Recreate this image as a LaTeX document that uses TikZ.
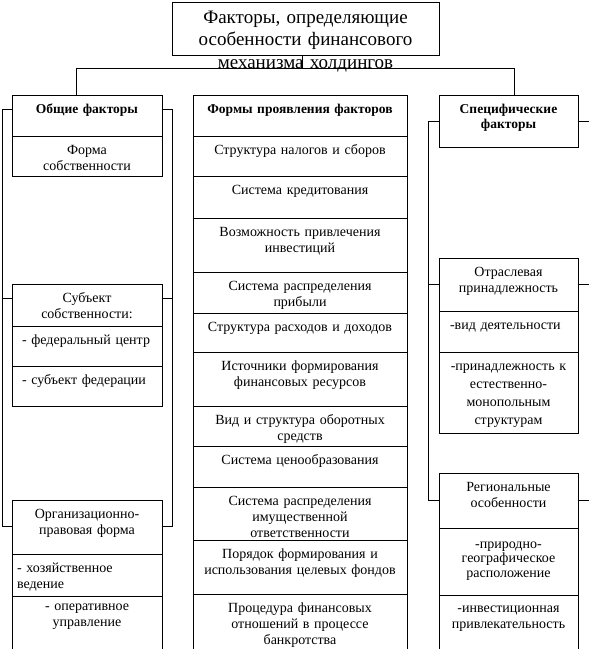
\documentclass[tikz,border=0pt]{standalone}
\usepackage{fontspec}
\setmainfont{Liberation Serif}
\usetikzlibrary{positioning}

\begin{document}
\begin{tikzpicture}[x=1pt,y=-1pt]
      \tikzset{
        cell/.style={draw, line width=0.8pt, inner xsep=3pt, inner ysep=0pt, outer sep=0pt, text height=18pt, align=center, font=\fontsize{14}{16}\selectfont},
        hd/.style={cell, font=\bfseries\fontsize{13.5}{15.5}\selectfont},
        colL/.style={text width=144pt},
        colM/.style={text width=208pt},
        colR/.style={text width=133pt},
        line/.style={draw, line width=0.8pt},
      }
      \useasboundingbox (0,0) rectangle (589,649);

      \node [cell, anchor=north west, text width=261pt, text height=21pt, text depth=32pt, font=\fontsize{19}{22.5}\selectfont] (title) at (172,2) {Факторы, определяющие\\ особенности финансового\\ механизма холдингов};

      % left column
      \node [hd, colL, anchor=north west, text depth=23pt] (gen) at (12,95) {Общие факторы};
      \node [cell, colL, below=0pt of gen, text depth=22pt] (own) {Форма\\ собственности};
      \node [cell, colL, anchor=north west, text depth=24pt] (subj) at (12,284) {Субъект\\ собственности:};
      \node [cell, colL, below=0pt of subj, align=left, text depth=22pt] (fed) {\hspace*{7pt}- федеральный центр};
      \node [cell, colL, below=0pt of fed, align=left, text depth=22pt] (sfed) {\hspace*{7pt}- субъект федерации};
      \node [cell, colL, anchor=north west, text depth=36pt] (org) at (12,500) {Организационно-\\ правовая форма};
      \node [cell, colL, below=0pt of org, align=left, text depth=24pt] (hoz) {\hspace*{2pt}- хозяйственное\\ \hspace*{2pt}ведение};
      \node [cell, colL, below=0pt of hoz, text height=14pt, text depth=42pt] (oper) {- оперативное\\ управление};

      % middle column
      \node [hd, colM, anchor=north west, text depth=23pt] (forms) at (193,95) {Формы проявления факторов};
      \node [cell, colM, below=0pt of forms, text depth=22pt] (m1) {Структура налогов и сборов};
      \node [cell, colM, below=0pt of m1, text depth=24pt] (m2) {Система кредитования};
      \node [cell, colM, below=0pt of m2, text depth=36pt] (m3) {Возможность привлечения\\ инвестиций};
      \node [cell, colM, below=0pt of m3, text depth=23pt] (m4) {Система распределения\\ прибыли};
      \node [cell, colM, below=0pt of m4, text depth=21pt] (m5) {Структура расходов и доходов};
      \node [cell, colM, below=0pt of m5, text depth=36pt] (m6) {Источники формирования\\ финансовых ресурсов};
      \node [cell, colM, below=0pt of m6, text depth=22pt] (m7) {Вид и структура оборотных\\ средств};
      \node [cell, colM, below=0pt of m7, text depth=23pt] (m8) {Система ценообразования};
      \node [cell, colM, below=0pt of m8, text depth=35pt] (m9) {Система распределения\\ имущественной\\ ответственности};
      \node [cell, colM, below=0pt of m9, text depth=36pt] (m10) {Порядок формирования и\\ использования целевых фондов};
      \node [cell, colM, below=0pt of m10, text depth=40pt] (m11) {Процедура финансовых\\ отношений в процессе\\ банкротства};

      % right column
      \node [hd, colR, anchor=north west, text depth=34pt] (spec) at (439,95) {Специфические\\ факторы};
      \node [cell, colR, anchor=north west, text depth=35pt] (ind) at (439,258) {Отраслевая\\ принадлежность};
      \node [cell, colR, below=0pt of ind, align=left, text depth=23pt] (act) {\hspace*{8pt}-вид деятельности};
      \node [cell, colR, below=0pt of act, text depth=63pt, font=\fontsize{14}{18}\selectfont] (mono) {-принадлежность к\\ естественно-\\ монопольным\\ структурам};
      \node [cell, colR, anchor=north west, text depth=37pt] (reg) at (439,473) {Региональные\\ особенности};
      \node [cell, colR, below=0pt of reg, text height=20pt, text depth=47pt, font=\fontsize{14}{14.5}\selectfont] (geo) {-природно-\\ географическое\\ расположение};
      \node [cell, colR, below=0pt of geo, text height=17pt, text depth=40pt] (inv) {-инвестиционная\\ привлекательность};

      % links to the title
      \coordinate (hub) at (302,68);
      \coordinate (jl) at (76,68);
      \coordinate (jr) at (514,68);
      \path [line] (title.south -| hub) -- (hub);
      \path [line] (jl |- gen.north) -- (jl) -- (jr) -- (jr |- spec.north);

      % brackets
      \path [line] ([yshift=6.5pt]gen.west) -- ++(-10,0) |- ([yshift=1pt]org.west);
      \path [line] ([yshift=7pt]subj.west) -- ++(-10,0);
      \path [line] ([yshift=6.5pt]gen.east) -- ++(10,0) |- ([yshift=1pt]org.east);
      \path [line] ([yshift=7pt]subj.east) -- ++(10,0);
      \path [line] (spec.west) -- ++(-11,0) |- (reg.west);
      \path [line] (ind.west) -- ++(-11,0);
      \foreach \n in {spec,ind,reg}
        \path [line] (\n.east) -- ++(11,0);
\end{tikzpicture}
\end{document}
